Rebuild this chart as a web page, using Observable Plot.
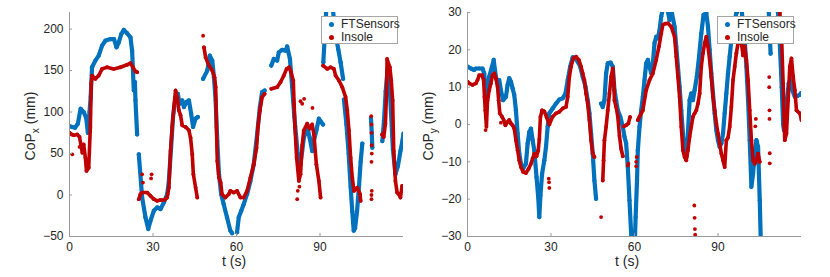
<!DOCTYPE html>
<html>
<head>
<meta charset="utf-8">
<script src="https://cdn.jsdelivr.net/npm/d3@7"></script>
<script src="https://cdn.jsdelivr.net/npm/@observablehq/plot@0.6"></script>
<style>
  body { margin: 0; background: #fff; font-family: "Liberation Sans", Arial, sans-serif; }
  #wrap { position: relative; width: 830px; height: 277px; overflow: hidden; }
  .panel { position: absolute; top: 0; }
  .legend { position: absolute; box-sizing: border-box; border: 1px solid #a6a6a6; background: #fff;
            font-size: 12px; color: #262626; line-height: 13px; padding: 1px 0 0 0; }
  .legend div { position: relative; padding-left: 19px; height: 13px; white-space: nowrap; }
  .legend span { position: absolute; left: 7px; top: 4px; width: 5px; height: 5px; border-radius: 50%; }
</style>
</head>
<body>
<div id="wrap"></div>
<script>
// ---------- data ----------
const ticksT = [0, 30, 60, 90];
const ticksCoPx = [-50, 0, 50, 100, 150, 200];
const ticksCoPy = [-30, -20, -10, 0, 10, 20, 30];
const seriesNames = ["FTSensors", "Insole"];

// CoP_x FTSensors [t (s), mm]; null = gap
const ftX = [
 [0,83],[1,82],[2,81],[3,86],[4,104],[5.1,100],[6,93],[6.6,75],[7.2,100],[7.6,118],[8.1,154],[9.3,162],[10.5,168],
 [11.7,180],[12.9,186],[14.7,188],[16,188],[16.9,178],[17.7,184],[18.6,194],[19.5,199],[20.7,195],[21.9,190],
 [22.5,174],[23.1,126],[23.5,136],[23.7,114],[24.3,73],null,
 [24.9,49],[26.1,-3],[27.3,-27],[28.3,-41],[29.1,-31],[30.3,-19],[31.5,-15],[32.7,-17],[33.9,-9],[35.1,1],[35.7,17],
 [36.5,57],[37.2,94],[38.1,118],[38.9,122],[39.6,110],[40.5,114],[41.1,106],[42,112],[42.9,114],[43.7,98],[44.4,82],
 [45.3,92],[46.1,94],null,
 [48,140],[49.5,150],[50.4,168],[51.3,162],[51.9,142],[52.5,114],[53.1,65],[53.7,25],[54.5,1],[55.4,-11],[56.6,-27],
 [57.8,-43],[58.4,-46],null,
 [60.2,-45],[60.8,-27],[61.7,-19],[62.6,-11],[63.8,1],[65,17],[66.2,37],[67.4,73],[68.4,106],[69.2,124],[70.1,126],null,
 [72.5,156],[73.4,164],[74.6,162],[75.2,172],[76.4,175],[77.6,174],[78.2,179],[79.2,164],[80,130],[80.8,94],[81.8,57],
 [82.6,29],[83.6,53],[84.2,69],[85.4,82],[86.3,69],[87.2,53],[87.8,65],[88.7,78],[89.6,92],[90.4,88],[91.1,85],null,
 [91.2,160],[91.6,185],[92,210],[92.3,225],null,
 [94.6,225],[95.2,205],[95.8,190],[96.6,175],[97.4,160],[98.3,140],null,
 [98.6,115],[99.5,85],[100.3,50],[101,10],[101.6,-20],[102.1,-43],[102.6,-40],[103.3,-20],[104,10],[104.6,40],[105.2,62],null,
 [108.3,93],[108.6,75],[108.8,57],null,
 [112.4,65],[113,90],[113.6,125],[114.3,153],[114.9,140],[115.5,100],[116.2,55],[117.1,25],[118,35],[118.9,53],[119.6,65],[120,74]
];
// CoP_x Insole
const insX = [
 [0,75],[0.8,73],[1.6,72],[2.8,73],[3.6,70],[4.6,51],[5.1,61],[5.7,45],[6.1,29],[6.9,33],[7.5,82],[7.8,134],[8.1,144],
 [9.3,140],[10.5,144],[11.7,152],[13.5,154],[15.9,152],[18.3,154],[20.7,157],[21.9,159],[22.8,154],[23.7,149],[24.3,148],null,
 [24.9,-5],[25.5,1],[26.1,3],[27.9,3],[29.1,-1],[30.3,-5],[31.5,-7],[32.7,-6],[34,-6],[35.1,-3],[35.7,9],[36.3,53],
 [36.9,82],[37.5,106],[38.1,126],[38.7,118],[39.3,102],[39.9,96],[40.5,84],[41.7,82],[42.9,78],[43.5,69],[44.1,49],
 [44.5,25],[45.3,9],[45.9,-3],null,
 [48.3,178],[48.9,166],[50.1,156],[51.3,150],[52.1,142],[52.5,130],[52.8,82],[53.1,41],[53.7,21],[54.3,15],[54.8,1],
 [56,-3],[57.2,1],[57.8,5],[59,3],[60.2,5],[61.4,-3],[62.6,-3],[63.8,5],[65,21],[66.2,37],[67.2,57],[67.7,82],[68.4,102],
 [69.2,118],[70.1,122],null,
 [72.5,128],[74.6,130],[75.8,136],[77,144],[78,152],[78.9,154],[79.6,148],[80.4,138],[81,82],[81.6,45],[82.4,17],[83,25],
 [83.6,60],[84.2,78],[85.4,86],[86.3,80],[87.2,85],[87.8,73],[88.7,37],[89.6,17],[90.2,-3],null,
 [91.1,156],[92.6,152],[93.8,154],[95,152],[95.6,144],[96.8,138],[98,130],[99.2,118],[99.8,102],[100.4,78],[101,45],
 [101.6,21],[102.2,5],[103.4,9],[104.4,1],[104.6,-7],null,
 [112.3,73],[112.9,70],[113.5,86],[113.9,122],[114.1,164],[115.1,154],[115.6,138],[116.1,114],[116.5,53],[117.1,17],
 [117.7,3],[118.3,1],[118.9,-3],[119.5,11]
];
const insXScatter = [
 [1,49],[3.6,58],[26.1,25],[26.4,15],[29.3,20],[29.5,25],[48,192],[80.6,110],[81.8,-5],[82,5],[82.6,10],
 [83,113],[83.6,110],[84.3,116],[87.3,105],[108.4,95],[108.5,85],[108.5,75],[108.6,60],[108.6,50],[108.5,40],
 [108.6,5],[108.5,0],[108.5,-5]
];

// CoP_y FTSensors
const ftY = [
 [0,15.5],[1.2,15],[2.4,14.6],[3,15],[4.2,15],[5.4,15],[6,13.7],[6.6,9.2],[7.2,7.4],[7.8,12.8],[8.8,15.5],[9.4,17.3],
 [10.2,12.8],[10.8,11],[11.4,11.9],[12,9.2],[12.8,6.5],[13.8,7.4],[14.4,10.6],[15,12.4],[15.6,11.5],[16.2,9.7],[16.8,7.9],
 [17.4,3.8],[18,-2.4],[18.6,-7.8],[19.2,-10.5],[20,-11.8],[21,-10.5],[21.6,-5.1],[22.2,-2],[22.8,-1.1],[23.4,-4.2],
 [24,-6.9],[24.8,-14.1],[25.4,-19.4],[25.8,-24.8],[26.2,-19],[26.8,-13.2],[27.6,-9.6],[28.2,-6],[28.8,-0.6],[29.4,3],
 [30.6,4.3],[31.8,5.6],[33,6.7],[34.2,7],[35.2,8.3],[36,11.9],[36.9,15.5],[37.8,18],[38.8,17.7],[39.6,16.8],[40.5,15.5],
 [41.4,12.8],[42.4,10.1],[43.2,6.5],[43.8,3],[44.4,-2.4],[45,-7.8],[45.6,-15],[46.2,-19.9],null,
 [48,5.6],[48.6,4.7],[49.2,6.5],[49.8,13.7],[50.4,16.4],[51.4,16.6],[52.2,15.5],[52.8,9.2],[53.4,6.5],[54,3.8],[54.9,2.1],
 [55.8,-0.6],[56.4,-3.3],[57,-5.1],[57.6,-11.4],[58.2,-20.3],[58.8,-29.3],[59.1,-32],null,
 [60.1,-32],[60.4,-24.8],[60.9,-15],[61.2,-6.9],[61.8,-0.6],[62.4,3.8],[63,7.4],[63.6,11.9],[64.2,16.4],[64.8,17.3],
 [65.4,15.5],[66,13.7],[66.6,16.4],[67.2,21.8],[67.8,23.5],[68.4,23.1],[69,25.3],[69.6,28.9],[70.2,31],null,
 [71.8,31],[72.6,28],[73.4,30],[74.4,26.2],[75,20.9],[75.6,15.5],[76.2,10.1],[76.8,3.8],[77.4,-2.4],[78,-7.8],[78.6,-8.7],
 [79.2,-2.4],[79.8,6.5],[80.4,8.3],[81,6.5],[81.6,9.2],[82.4,12.8],[83.2,18.2],[84,24.4],[84.8,29.4],[85.8,29.8],
 [86.4,26.2],[87,20],[87.6,13.7],[88.2,8.3],[88.8,3],[89.4,-1.5],[90,-4.2],[90.6,-6],[91.2,-5.1],[91.8,-2.4],[92.4,3],
 [93,8.3],[93.6,13.7],[94.2,18.2],[94.8,22.6],[95.4,26.2],[96.6,29.8],[97.4,31],null,
 [98.5,31],[98.8,28],[99.6,22.6],[100.2,15.5],[100.8,6.5],[101.4,-4.2],[102,-16.7],[102.6,-13.2],[103.2,-7.8],
 [103.8,-4.2],[104.4,-6],[105,-20.3],[105.4,-32],null,
 [108.2,31],[108.6,24],[108.9,19],null,
 [111.4,31],[111.8,28],[112.3,20],[112.9,10],[113.4,0],[113.7,-1.5],[114.2,2],[114.8,7],[115.4,11],[116,12],[116.8,9],
 [117.6,7.4],[118.4,7.6],[119.4,8],[119.8,8.4]
];
// CoP_y Insole
const insY = [
 [0,11.5],[0.6,11],[1.8,10.6],[3,11],[3.6,11.9],[4.2,13.2],[5.2,13.2],[5.8,11.9],[6.1,7.4],[6.4,3.8],[6.8,-0.6],[7.2,6.5],
 [7.8,9.2],[8.4,11],[9,13.2],[9.6,13.7],[10.2,12.4],[10.8,10.1],[11.2,6.5],[11.6,3],[12.4,2.1],[13,1.2],[13.6,-0.2],
 [14.4,0.7],[15,1.2],[15.6,0.3],[16.2,-0.2],[16.8,-1.1],[17.4,-4.2],[18,-6.9],[18.6,-9.6],[19.2,-11.4],[20,-12.7],
 [21,-13],[22,-11.8],[22.8,-10.5],[23.4,-9.1],[24,-7.8],[24.8,-8.5],[25.4,-7],[25.8,-4],[26.2,2],[26.8,3.8],[27.6,3.5],
 [28.4,2],[29.4,0],[30.6,2.1],[31.8,3],[33,3.4],[34.2,4.3],[35.4,4.7],[36,7.4],[36.6,12.8],[37.2,15.5],[38,17.7],
 [39,18.2],[40,17.3],[40.8,15.5],[41.4,13.7],[42,11.9],[42.6,8.3],[43.2,5.6],[43.8,1.2],[44.4,-4.2],[45,-7.8],[45.6,-8.7],null,
 [48.6,-15],[48.9,-9.6],[49.2,-4.2],[49.8,-0.6],[50.4,3.8],[51,8.3],[51.6,12.8],[52.2,15],[52.6,11],[52.8,6.5],[53.4,4.7],
 [54,2.1],[54.6,-3],[55.2,-6.5],[55.8,-8.5],null,
 [56.2,-0.5],[57,-0.2],[57.8,0.3],[58.4,2],null,
 [61.2,1.2],[61.8,2.1],[63,3.8],[64.2,9.2],[65.4,11.9],[66.6,13.7],[67.8,17.3],[68.8,20.9],[69.6,24.4],[70.2,26.7],
 [71,27],[72,27.1],[73.2,26.2],[74.4,23.5],[75,18.2],[75.6,12.8],[76.2,7.4],[76.8,-0.6],[77.4,-6.9],[78,-8.7],[78.6,-9.6],
 [79.2,-6.9],[79.8,-3.3],[80.4,-0.6],[81,2.1],[81.6,3],[82.2,3.8],[82.8,5.6],[83.4,8.3],[84,15.5],[84.6,19.1],[85.2,21.8],
 [85.8,23.5],[86.4,20.9],[87,17.3],[87.6,12.8],[88.2,7.4],[88.8,3.8],[89.4,0.3],[90,-2.4],[90.6,-5.1],[91.2,-7.8],
 [91.8,-9.6],[92.4,-11.4],[93,-4.2],[93.6,-3.5],[94.2,-0.6],[94.8,4.7],[95.4,11.9],[96,15.5],[96.6,19.1],[97.2,21.8],
 [97.8,23.5],[98.4,21.8],[99,18.5],[99.6,20.9],[100.2,17.3],[100.8,11.9],[101.4,3.8],[102,-4.2],[102.6,-9.6],[103.2,-10.5],
 [103.8,-9.6],[104.4,-7.8],[105,-10],null,
 [112.2,30],[112.8,24.4],[113.4,11],[113.8,-0.6],[114,-4.2],[114.6,-2.4],[115.2,6.5],[115.8,15.5],[116.4,17.7],[117,12.8],
 [117.6,9.2],[118.2,3.8],[119.4,3],[120,1.2]
];
const insYScatter = [
 [48,-24.8],[29.2,-14.5],[29.3,-15.5],[29.4,-17],[57.6,-11],[57.8,-10.5],[60.6,-10],[60.6,-11.2],[60.8,-8.7],
 [81.5,-21.7],[81.6,-25],[81.7,-28],[81.8,-29.5],[108.4,12.7],[108.4,10],[108.5,3.8],[108.5,1.5],[108.6,-7.7],
 [108.6,-10.4],[103.4,-0.5],[103.6,1.5],[6.5,-1.5],[12,0.5]
];

// ---------- drawing ----------
const BLUE = "#0072bd", RED = "#c00000", AXIS = "#9a9a9a", TEXT = "#262626";
const FONT = "'Liberation Sans', Arial, sans-serif";
const rows = arr => arr.map(p => p ? {t: p[0], v: p[1]} : {t: NaN, v: NaN});
const pts = arr => arr.filter(p => p).map(p => ({t: p[0], v: p[1]}));

function panel({ft, ins, scatter, yDomain, yTicks, marginLeft, marginRight, left, ylab, ylabX, xlabX, legendLeft}) {
  const wrap = document.getElementById("wrap");
  const chart = Plot.plot({
    width: 415, height: 277,
    marginLeft, marginRight, marginTop: 12, marginBottom: 41,
    style: {fontFamily: FONT, fontSize: "12px", color: TEXT, background: "transparent"},
    x: {domain: [0, 120]},
    y: {domain: yDomain},
    marks: [
      Plot.line(rows(ft), {x: "t", y: "v", stroke: BLUE, strokeWidth: 4.2, strokeLinecap: "round", strokeLinejoin: "round", clip: true}),
      Plot.dot(pts(ft), {x: "t", y: "v", r: 2.1, fill: BLUE, clip: true}),
      Plot.line(rows(ins), {x: "t", y: "v", stroke: RED, strokeWidth: 3.6, strokeLinecap: "round", strokeLinejoin: "round", clip: true}),
      Plot.dot(pts(ins), {x: "t", y: "v", r: 1.9, fill: RED, clip: true}),
      Plot.dot(pts(scatter), {x: "t", y: "v", r: 1.9, fill: RED, clip: true}),
      Plot.ruleX([0], {stroke: AXIS}),
      Plot.ruleY([yDomain[0]], {stroke: AXIS}),
      Plot.axisX({ticks: ticksT, tickSize: -3, tickPadding: 9, stroke: AXIS, label: null, fontSize: 12}),
      Plot.axisY({ticks: yTicks, tickSize: -3, tickPadding: 9, stroke: AXIS, label: null, fontSize: 12})
    ]
  });
  chart.classList.add("panel");
  chart.style.left = left + "px";
  const svg = d3.select(chart);
  svg.selectAll("[aria-label='x-axis tick label'] text, [aria-label='y-axis tick label'] text").attr("fill", TEXT);
  const yl = svg.append("text")
    .attr("transform", `translate(${ylabX},126) rotate(-90)`)
    .attr("text-anchor", "middle").attr("font-size", 14).attr("fill", TEXT).attr("font-family", FONT);
  yl.append("tspan").text("CoP");
  yl.append("tspan").attr("font-size", 10).attr("dy", 4).text(ylab);
  yl.append("tspan").attr("dy", -4).text(" (mm)");
  svg.append("text").attr("x", xlabX).attr("y", 266).attr("text-anchor", "middle")
    .attr("font-size", 14).attr("fill", TEXT).attr("font-family", FONT).text("t (s)");
  wrap.appendChild(chart);

  const lg = document.createElement("div");
  lg.className = "legend";
  lg.style.left = legendLeft + "px"; lg.style.top = "16px";
  lg.style.width = "77px"; lg.style.height = "28px";
  lg.innerHTML = seriesNames.map((n, i) =>
    `<div><span style="background:${i ? RED : BLUE}"></span>${n}</div>`).join("");
  wrap.appendChild(lg);
}

panel({ft: ftX, ins: insX, scatter: insXScatter, yDomain: [-50, 220], yTicks: ticksCoPx,
       marginLeft: 69, marginRight: 12, left: 0, ylab: "x", ylabX: 35, xlabX: 234, legendLeft: 321});
panel({ft: ftY, ins: insY, scatter: insYScatter, yDomain: [-30, 30], yTicks: ticksCoPy,
       marginLeft: 52, marginRight: 29, left: 415, ylab: "y", ylabX: 18, xlabX: 212, legendLeft: 717});
</script>
</body>
</html>
